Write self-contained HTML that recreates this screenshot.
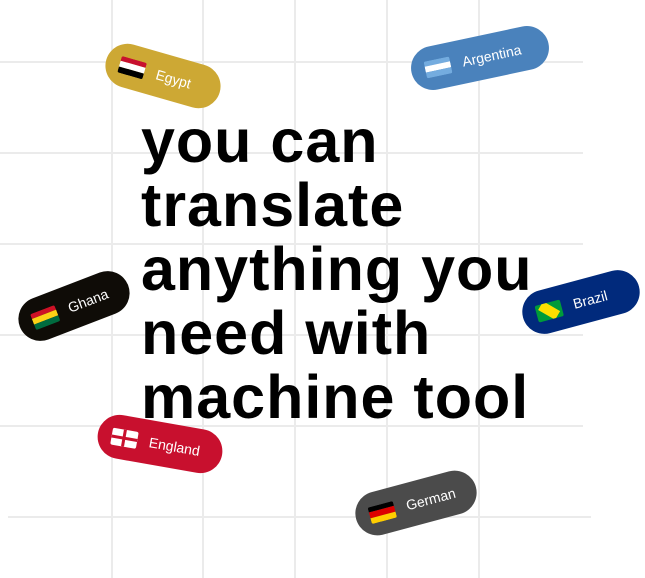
<!DOCTYPE html>
<html><head><style>
body{margin:0;width:645px;height:578px;background:#fff;position:relative;overflow:hidden;font-family:"Liberation Sans",sans-serif}
.v{position:absolute;top:0;width:2px;height:578px;background:#ebebeb}
.h{position:absolute;left:0;width:583px;height:2px;background:#ebebeb}
.t{position:absolute;left:141px;top:109px;font-size:61px;font-weight:bold;line-height:64px;color:#000;letter-spacing:1px;white-space:nowrap}
.p{position:absolute;height:44px;border-radius:22px;color:#fff;font-size:14px;display:flex;align-items:center;box-sizing:border-box;padding-left:14px;white-space:nowrap}
.f{width:26px;height:17px;margin-right:12px;border-radius:2px;overflow:hidden;display:flex;flex-direction:column}
.f i{flex:1;display:block}
</style></head><body>
<div class="v" style="left:111px"></div><div class="v" style="left:202px"></div><div class="v" style="left:294px"></div><div class="v" style="left:386px"></div><div class="v" style="left:478px"></div>
<div class="h" style="top:61px"></div><div class="h" style="top:152px"></div><div class="h" style="top:243px"></div><div class="h" style="top:334px"></div><div class="h" style="top:425px"></div><div class="h" style="top:516px;left:8px;width:583px"></div>
<div class="t">you can<br>translate<br>anything you<br>need with<br>machine tool</div>

<div class="p" style="left:104px;top:54px;width:118px;background:#cda834;transform:rotate(16deg)"><div class="f"><i style="background:#c8102e"></i><i style="background:#fff"></i><i style="background:#000"></i></div>Egypt</div>
<div class="p" style="left:410px;top:36px;width:140px;background:#4a82bc;transform:rotate(-12deg)"><div class="f"><i style="background:#74acdf"></i><i style="background:#fff"></i><i style="background:#74acdf"></i></div>Argentina</div>
<div class="p" style="left:16px;top:284px;width:116px;background:#0f0c07;transform:rotate(-21deg)"><div class="f"><i style="background:#ce1126"></i><i style="background:#fcd116"></i><i style="background:#006b3f"></i></div>Ghana</div>
<div class="p" style="left:521px;top:280px;width:120px;background:#012a7c;transform:rotate(-15deg)"><div class="f" style="background:#009b3a;align-items:center;justify-content:center"><i style="flex:none;width:14px;height:10px;background:#fedf00;transform:rotate(45deg) scaleX(1.4)"></i></div>Brazil</div>
<div class="p" style="left:97px;top:422px;width:126px;background:#c8102e;transform:rotate(10deg)"><div class="f" style="background:#fff;position:relative"><i style="position:absolute;left:11px;top:0;width:3px;height:17px;background:#c8102e"></i><i style="position:absolute;left:0;top:7px;width:26px;height:3px;background:#c8102e"></i></div>England</div>
<div class="p" style="left:354px;top:481px;width:124px;background:#4b4b4b;transform:rotate(-15deg)"><div class="f"><i style="background:#000"></i><i style="background:#dd0000"></i><i style="background:#ffce00"></i></div>German</div>
</body></html>
